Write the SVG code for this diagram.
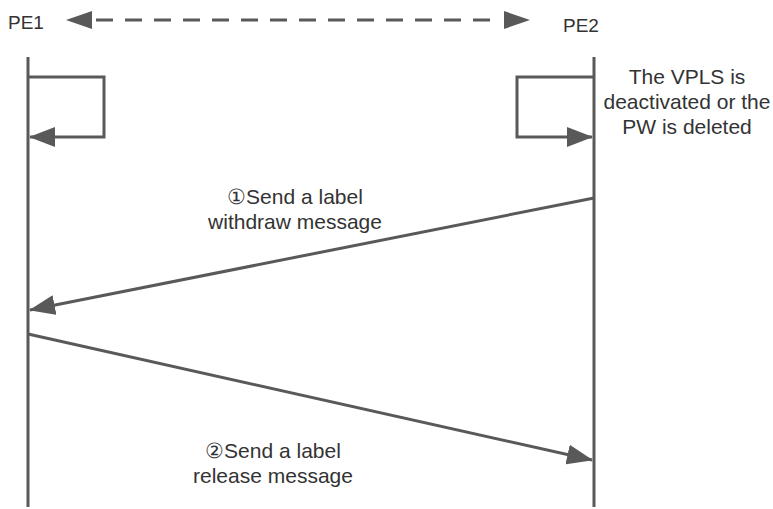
<svg xmlns="http://www.w3.org/2000/svg" width="773" height="509" viewBox="0 0 773 509">
<style>
.t{font-family:"Liberation Sans",Arial,sans-serif;font-size:21px;fill:#333}
.p{font-size:19px}
.c{text-anchor:middle}
.l{stroke:#595959;stroke-width:3;fill:none}
</style>
<defs>
<marker id="ab" markerWidth="26" markerHeight="20" refX="25" refY="10" orient="auto-start-reverse" markerUnits="userSpaceOnUse" viewBox="0 0 26 20">
<path d="M0,0 L26,10 L0,20 Z" fill="#595959"/>
</marker>
</defs>
<rect width="773" height="509" fill="#fff"/>
<g id="pe1">
<text class="t p" x="8" y="29">PE1</text>
<line class="l" x1="28" y1="57" x2="28" y2="507"/>
</g>
<g id="pe2">
<text class="t p" x="563" y="32">PE2</text>
<line class="l" x1="594" y1="57" x2="594" y2="507"/>
</g>
<g id="note">
<text class="t c" x="687" y="84">The VPLS is</text>
<text class="t c" x="687" y="109">deactivated or the</text>
<text class="t c" x="687" y="134">PW is deleted</text>
</g>
<g id="label1">
<text class="t c" x="295" y="204">①Send a label</text>
<text class="t c" x="295" y="229">withdraw message</text>
</g>
<g id="label2">
<text class="t c" x="273" y="458">②Send a label</text>
<text class="t c" x="273" y="483">release message</text>
</g>
<g id="connectors">
<line class="l" x1="96" y1="20" x2="500" y2="20" stroke-dasharray="17,12"/>
<path d="M66,20 L92,11 L92,29 Z" fill="#595959"/>
<path d="M530,20 L504,11 L504,29 Z" fill="#595959"/>
<polyline class="l" points="28,77 104,77 104,137 30,137" marker-end="url(#ab)"/>
<polyline class="l" points="594,77 517,77 517,137 592,137" marker-end="url(#ab)"/>
<line class="l" x1="594" y1="198" x2="30" y2="310" marker-end="url(#ab)"/>
<line class="l" x1="28" y1="334" x2="592" y2="460" marker-end="url(#ab)"/>
</g>
</svg>
